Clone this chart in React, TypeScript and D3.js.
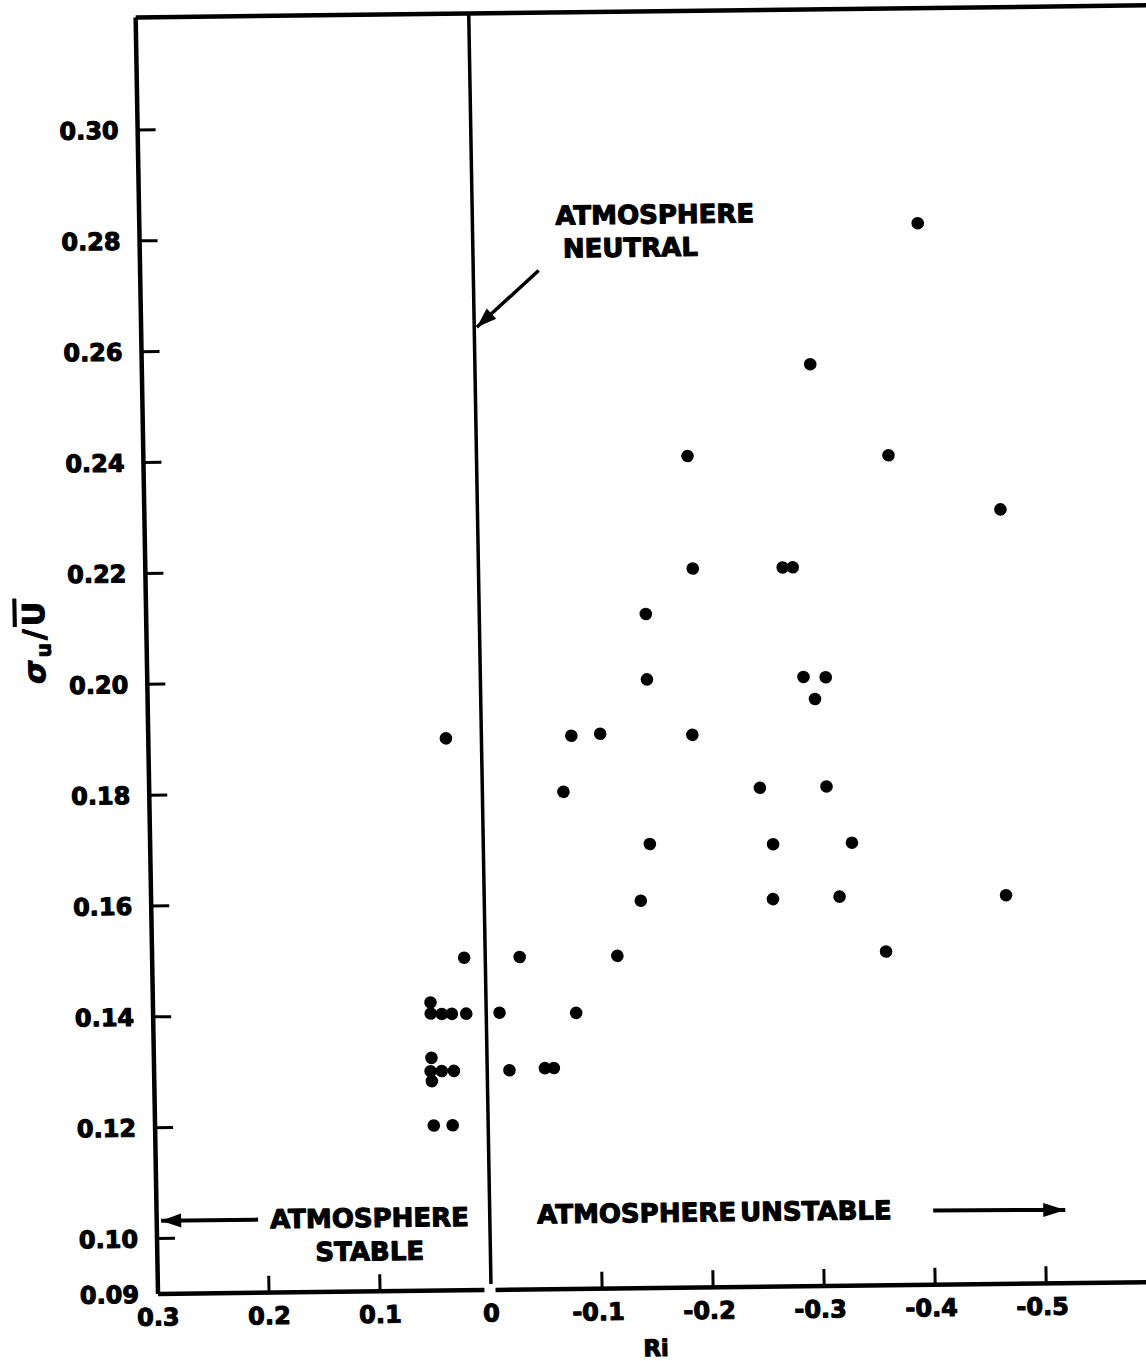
import * as d3 from "d3";

// Ri (Richardson number) and sigma_u / U-bar
const riValues = [
  -0.401, -0.302, -0.19, -0.371, -0.471, -0.193, -0.274, -0.283, -0.15, -0.15,
  -0.291, -0.311, -0.301, 0.032, -0.081, -0.107, -0.19, -0.073, -0.25, -0.31,
  -0.15, -0.261, -0.332, -0.141, -0.26, -0.32, -0.47, 0.019, -0.031, -0.119,
  -0.361, 0.05, 0.05, 0.04, 0.031, 0.018, -0.012, -0.081, 0.05, 0.051,
  0.05, 0.041, 0.03, -0.02, -0.052, -0.06, 0.049, 0.032,
];
const sigmaValues = [
  0.2815, 0.2563, 0.24, 0.2397, 0.2297, 0.2197, 0.2197, 0.2197, 0.2116, 0.1998,
  0.1999, 0.1998, 0.1959, 0.1896, 0.1898, 0.1901, 0.1897, 0.1797, 0.18, 0.1801,
  0.1701, 0.1698, 0.1699, 0.1599, 0.1599, 0.1602, 0.1601, 0.15, 0.15, 0.15,
  0.1502, 0.142, 0.14, 0.1399, 0.1399, 0.1399, 0.14, 0.1398, 0.132, 0.1296,
  0.1278, 0.1296, 0.1296, 0.1296, 0.1299, 0.1299, 0.1198, 0.1198,
];

const yTickValues = [0.09, 0.1, 0.12, 0.14, 0.16, 0.18, 0.2, 0.22, 0.24, 0.26, 0.28, 0.3];
const yTickLabels = ["0.09", "0.10", "0.12", "0.14", "0.16", "0.18", "0.20", "0.22", "0.24", "0.26", "0.28", "0.30"];
const xTickValues = [0.3, 0.2, 0.1, 0, -0.1, -0.2, -0.3, -0.4, -0.5];
const xTickLabels = ["0.3", "0.2", "0.1", "0", "-0.1", "-0.2", "-0.3", "-0.4", "-0.5"];

const FONT = "'DejaVu Sans', Arial, sans-serif";

function arrowHead(x1: number, y1: number, x2: number, y2: number, len: number, half: number) {
  const a = Math.atan2(y2 - y1, x2 - x1);
  const bx = x2 - len * Math.cos(a);
  const by = y2 - len * Math.sin(a);
  const nx = -Math.sin(a) * half;
  const ny = Math.cos(a) * half;
  return `M${x2},${y2}L${bx + nx},${by + ny}L${bx - nx},${by - ny}Z`;
}

export default function App() {
  const width = 1146;
  const height = 1361;

  const x = d3.scaleLinear().domain([0.3, -0.5]).range([158, 1046.2]);
  const y = d3.scaleLinear().domain([0.09, 0.3]).range([1294, 130]);

  const left = x(0.3);
  const right = x(-0.62);
  const top = y(0.3203);
  const bottom = y(0.09);
  const zero = x(0);

  // annotation arrows, in data units
  const stableArrow = [x(0.2087), y(0.1032), x(0.296), y(0.1032)];
  const unstableArrow = [x(-0.3994), y(0.1034), x(-0.5183), y(0.1032)];
  const neutralArrow = [x(-0.0589), y(0.2738), x(-0.0023), y(0.2637)];

  // the scan is slightly skewed; reproduce it
  const skew = "matrix(1,-0.012,0.0175,1,-22.645,1.896)";

  // heavier lettering like the original typeset labels
  const heavy = { stroke: "#000", strokeWidth: 1.1, strokeLinejoin: "round" as const };

  return (
    <div style={{ position: "absolute", left: 0, top: 0, background: "#fff" }}>
      <svg width={width} height={height} style={{ display: "block" }}>
        <rect width={width} height={height} fill="#fff" />
        <g transform={skew} fontFamily={FONT} fontWeight="bold" fill="#000">
          {/* frame */}
          <line x1={left} y1={top} x2={right} y2={top} stroke="#000" strokeWidth={4.5} />
          <line x1={left} y1={top} x2={left} y2={bottom} stroke="#000" strokeWidth={4.5} />
          <line x1={left} y1={bottom} x2={x(0.006)} y2={bottom} stroke="#000" strokeWidth={4.5} />
          <line x1={x(-0.004)} y1={bottom} x2={right} y2={bottom} stroke="#000" strokeWidth={4.5} />
          {/* neutral line */}
          <line x1={zero} y1={top} x2={zero} y2={bottom - 6} stroke="#000" strokeWidth={3.5} />

          {/* y ticks */}
          {yTickValues.map((v, i) => (
            <g key={"y" + i}>
              {v > 0.095 && (
                <line x1={left} x2={left + 18} y1={y(v)} y2={y(v)} stroke="#000" strokeWidth={3} />
              )}
              <text x={139} y={y(v) + 8.7} textAnchor="end" fontSize={24} {...heavy}>
                {yTickLabels[i]}
              </text>
            </g>
          ))}

          {/* x ticks */}
          {xTickValues.map((v, i) => (
            <g key={"x" + i}>
              {v !== 0 && v !== 0.3 && (
                <line x1={x(v)} x2={x(v)} y1={bottom} y2={bottom - 17} stroke="#000" strokeWidth={3} />
              )}
              <text x={x(v) + (v < 0 ? -4 : 0)} y={1325.5} textAnchor="middle" fontSize={24} {...heavy}>
                {xTickLabels[i]}
              </text>
            </g>
          ))}

          {/* axis titles */}
          <text x={655} y={1362} textAnchor="middle" fontSize={23} {...heavy}>Ri</text>
          <text
            transform={`translate(56,${y(0.208)}) rotate(-90)`}
            textAnchor="middle"
            fontSize={30}
            letterSpacing={3}
            {...heavy}
          >
            <tspan fontStyle="italic">σ</tspan>
            <tspan dy={6} fontSize={20}>u</tspan>
            <tspan dy={-6}>/</tspan>
            <tspan style={{ textDecoration: "overline" }}>U</tspan>
          </text>

          {/* data points */}
          {riValues.map((r, i) => (
            <circle key={"p" + i} cx={x(r)} cy={y(sigmaValues[i])} r={6.3} fill="#000" />
          ))}

          {/* annotations */}
          <text x={x(-0.0748)} y={y(0.282)} fontSize={26} {...heavy}>ATMOSPHERE</text>
          <text x={x(-0.081)} y={y(0.2761)} fontSize={26} {...heavy}>NEUTRAL</text>
          <line
            x1={neutralArrow[0]}
            y1={neutralArrow[1]}
            x2={neutralArrow[2]}
            y2={neutralArrow[3]}
            stroke="#000"
            strokeWidth={3.5}
          />
          <path d={arrowHead(neutralArrow[0], neutralArrow[1], neutralArrow[2], neutralArrow[3], 20, 7)} />

          <text x={x(0.1979)} y={y(0.1016)} fontSize={26} {...heavy}>ATMOSPHERE</text>
          <text x={x(0.1576)} y={y(0.0956)} fontSize={26} {...heavy}>STABLE</text>
          <line
            x1={stableArrow[0]}
            y1={stableArrow[1]}
            x2={stableArrow[2]}
            y2={stableArrow[3]}
            stroke="#000"
            strokeWidth={4}
          />
          <path d={arrowHead(stableArrow[0], stableArrow[1], stableArrow[2], stableArrow[3], 20, 7)} />

          <text x={x(-0.0427)} y={y(0.1019)} fontSize={26} wordSpacing={-5} {...heavy}>
            ATMOSPHERE UNSTABLE
          </text>
          <line
            x1={unstableArrow[0]}
            y1={unstableArrow[1]}
            x2={unstableArrow[2]}
            y2={unstableArrow[3]}
            stroke="#000"
            strokeWidth={4}
          />
          <path d={arrowHead(unstableArrow[0], unstableArrow[1], unstableArrow[2], unstableArrow[3], 22, 7)} />
        </g>
      </svg>
    </div>
  );
}
